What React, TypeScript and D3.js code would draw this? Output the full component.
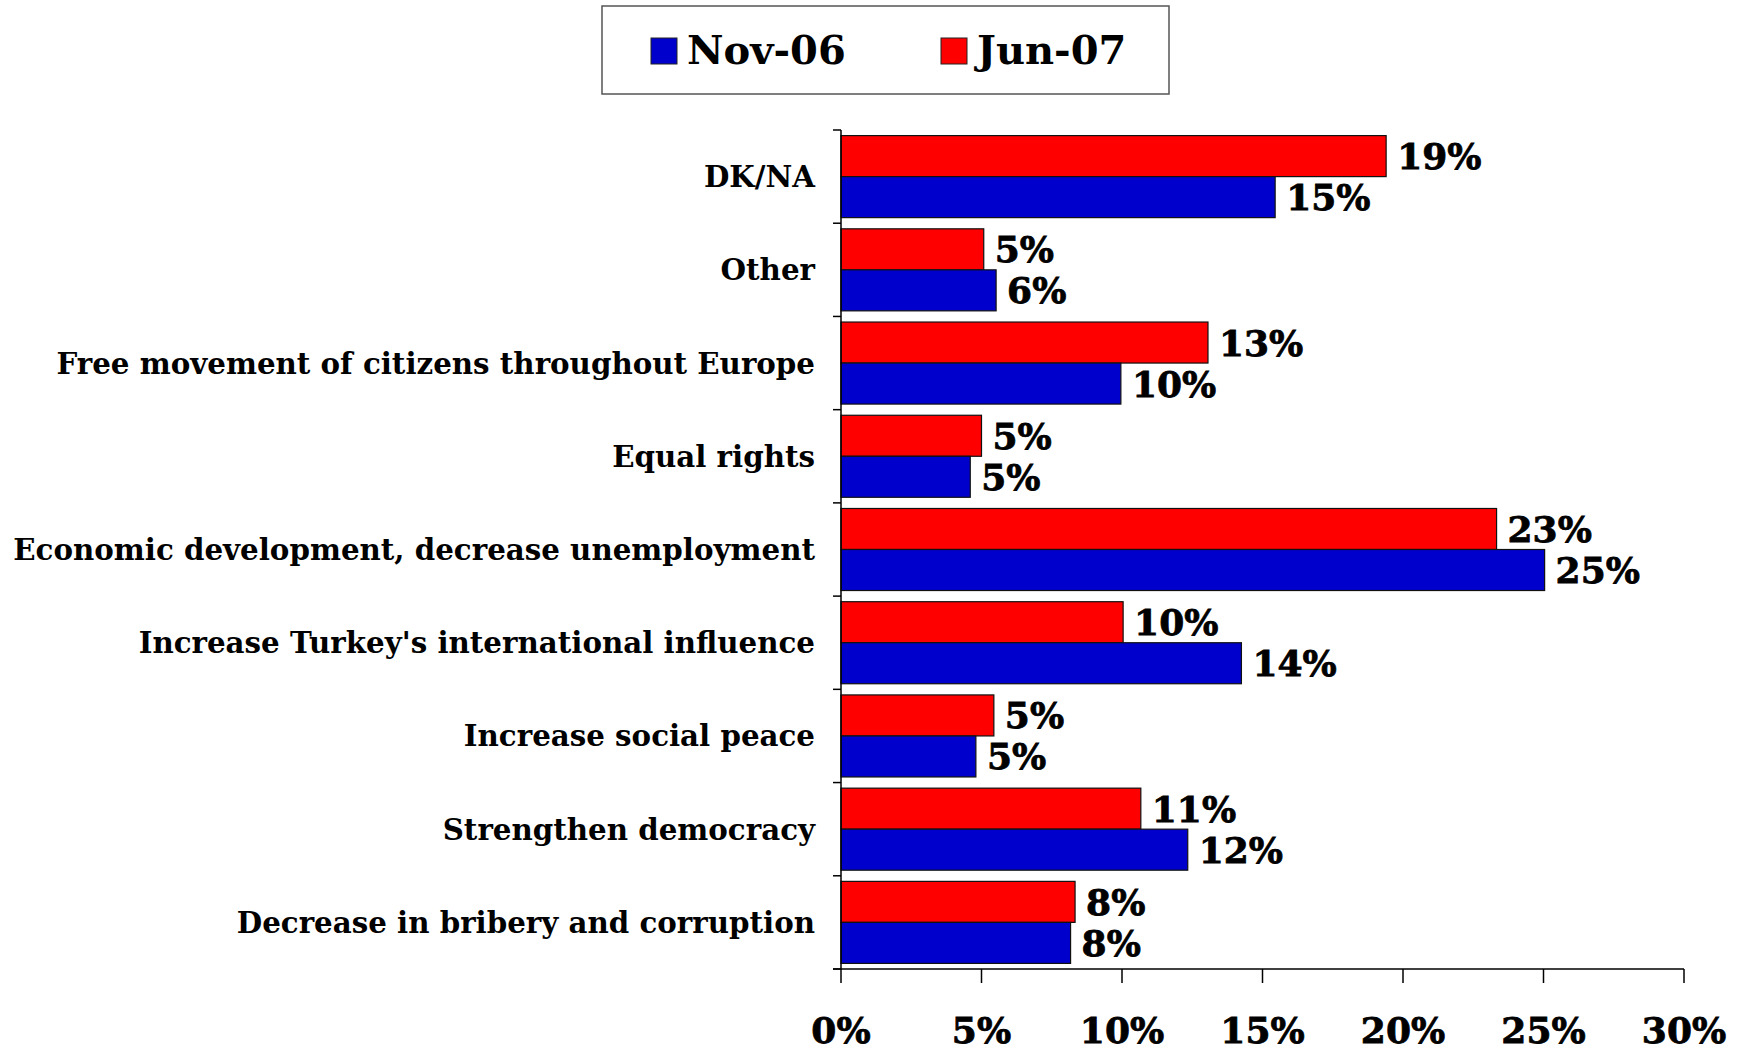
import React from "react";
import * as d3 from "d3";

const categories = [
  "DK/NA",
  "Other",
  "Free movement of citizens throughout Europe",
  "Equal rights",
  "Economic development, decrease unemployment",
  "Increase Turkey's international influence",
  "Increase social peace",
  "Strengthen democracy",
  "Decrease in bribery and corruption",
];
const nov06 = [15.45, 5.52, 9.96, 4.6, 25.04, 14.25, 4.8, 12.34, 8.17];
const jun07 = [19.4, 5.08, 13.06, 5.0, 23.33, 10.04, 5.44, 10.67, 8.33];
const xTicks = [0, 5, 10, 15, 20, 25, 30];
const seriesNames = ["Nov-06", "Jun-07"];
const seriesColors = ["#0000CC", "#FF0000"];

const W = 1748;
const H = 1051;
const SERIF = "'DejaVu Serif', serif";

export default function App() {
  const x = d3.scaleLinear().domain([0, 30]).range([841, 1684]);
  const y = d3
    .scaleBand<string>()
    .domain(categories)
    .range([130, 969])
    .paddingInner(0.12)
    .paddingOuter(0.06);
  const step = y.step();
  const bw = y.bandwidth();
  const half = bw / 2;
  const x0 = x(0);
  const yTop = 130;
  const yBot = 969;

  return (
    <svg
      width={W}
      height={H}
      style={{ position: "absolute", left: 0, top: 0, background: "#fff" }}
      fontFamily={SERIF}
    >
      <rect x={0} y={0} width={W} height={H} fill="#fff" />
      {/* Legend */}
      <rect x={602} y={6} width={567} height={88} fill="#fff" stroke="#555" strokeWidth={1.5} />
      {seriesNames.map((s, i) => {
        const lx = i === 0 ? 651 : 941;
        return (
          <g key={s}>
            <rect x={lx} y={38} width={26} height={26} fill={seriesColors[i]} stroke="#222" strokeWidth={1} />
            <text x={lx + 36} y={64} fontSize={40} fontWeight="bold" fill="#000">
              {s}
            </text>
          </g>
        );
      })}

      {/* Bars */}
      {categories.map((c, i) => {
        const by = y(c)!;
        const vals = [jun07[i], nov06[i]];
        const cols = [seriesColors[1], seriesColors[0]];
        return (
          <g key={c}>
            {vals.map((v, j) => (
              <g key={j}>
                <rect
                  x={x0}
                  y={by + j * half}
                  width={x(v) - x0}
                  height={half}
                  fill={cols[j]}
                  stroke="#111"
                  strokeWidth={1.2}
                />
                <text
                  x={x(v) + 11}
                  y={by + j * half + half / 2}
                  dy="0.36em"
                  fontSize={36}
                  fontWeight="bold"
                  fill="#000"
                  stroke="#000"
                  strokeWidth={0.8}
                >
                  {Math.round(v)}%
                </text>
              </g>
            ))}
            <text
              x={815}
              y={by + bw / 2}
              dy="0.36em"
              textAnchor="end"
              fontSize={29.3}
              fontWeight="bold"
              fill="#000"
            >
              {c}
            </text>
          </g>
        );
      })}

      {/* Y axis */}
      <line x1={x0} x2={x0} y1={yTop} y2={yBot} stroke="#000" strokeWidth={1.5} />
      {d3.range(categories.length + 1).map((k) => (
        <line
          key={k}
          x1={x0 - 8}
          x2={x0}
          y1={yTop + k * step}
          y2={yTop + k * step}
          stroke="#000"
          strokeWidth={1.5}
        />
      ))}

      {/* X axis */}
      <line x1={x0 - 8} x2={x(30)} y1={yBot} y2={yBot} stroke="#000" strokeWidth={1.5} />
      {xTicks.map((t) => (
        <g key={t}>
          <line x1={x(t)} x2={x(t)} y1={yBot} y2={yBot + 14} stroke="#000" strokeWidth={1.5} />
          <text
            x={x(t)}
            y={1043}
            textAnchor="middle"
            fontSize={36}
            fontWeight="bold"
            fill="#000"
            stroke="#000"
            strokeWidth={0.8}
          >
            {t}%
          </text>
        </g>
      ))}
    </svg>
  );
}
